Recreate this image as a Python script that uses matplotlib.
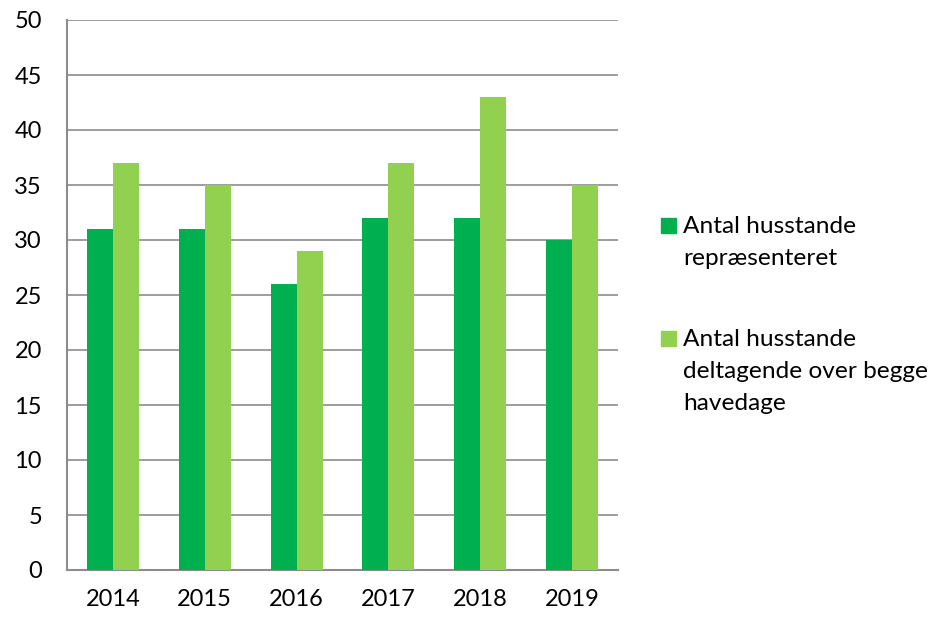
import matplotlib
matplotlib.use("Agg")
import matplotlib.pyplot as plt
from matplotlib.patches import Rectangle
import numpy as np

years = ["2014", "2015", "2016", "2017", "2018", "2019"]
repraesenteret = [31, 31, 26, 32, 32, 30]
deltagende = [37, 35, 29, 37, 43, 35]
labels = ["Antal husstande\nrepræsenteret",
          "Antal husstande\ndeltagende over begge\nhavedage"]

dark_green = "#00B050"
light_green = "#92D050"
grid_gray = "#8C8C8C"

plt.rcParams["font.family"] = ["Lato", "DejaVu Sans"]

W, H = 935, 618
fig = plt.figure(figsize=(W / 100, H / 100), dpi=100)
ax = fig.add_axes([67 / W, 48 / H, 551 / W, 550 / H])

x = np.arange(len(years))
w = 0.283
ax.bar(x - w / 2, repraesenteret, width=w, color=dark_green, zorder=3)
ax.bar(x + w / 2, deltagende, width=w, color=light_green, zorder=3)

ax.set_xlim(-0.5, len(years) - 0.5)
ax.set_ylim(0, 50)
ax.set_yticks(range(0, 51, 5))
ax.set_xticks(x)
ax.set_xticklabels(years)
ax.yaxis.grid(True, color=grid_gray, linewidth=1.2, zorder=0)
ax.tick_params(axis="both", length=0, labelsize=17, colors="black")
ax.tick_params(axis="y", pad=18)
ax.tick_params(axis="x", pad=14)

for side in ["top", "right"]:
    ax.spines[side].set_visible(False)
for side in ["left", "bottom"]:
    ax.spines[side].set_color(grid_gray)
    ax.spines[side].set_linewidth(1.5)

# legend drawn by hand so the square sits on the first text line
first_baselines = [233, 346]
line_step = 32
for label, color, base in zip(labels, [dark_green, light_green], first_baselines):
    fig.add_artist(Rectangle((661 / W, 1 - (base) / H), 15 / W, 15 / H,
                             transform=fig.transFigure, color=color))
    for i, line in enumerate(label.split("\n")):
        fig.text(683 / W, 1 - (base + i * line_step) / H, line,
                 fontsize=17.6, va="baseline", ha="left")

fig.savefig("out.png", dpi=100)
